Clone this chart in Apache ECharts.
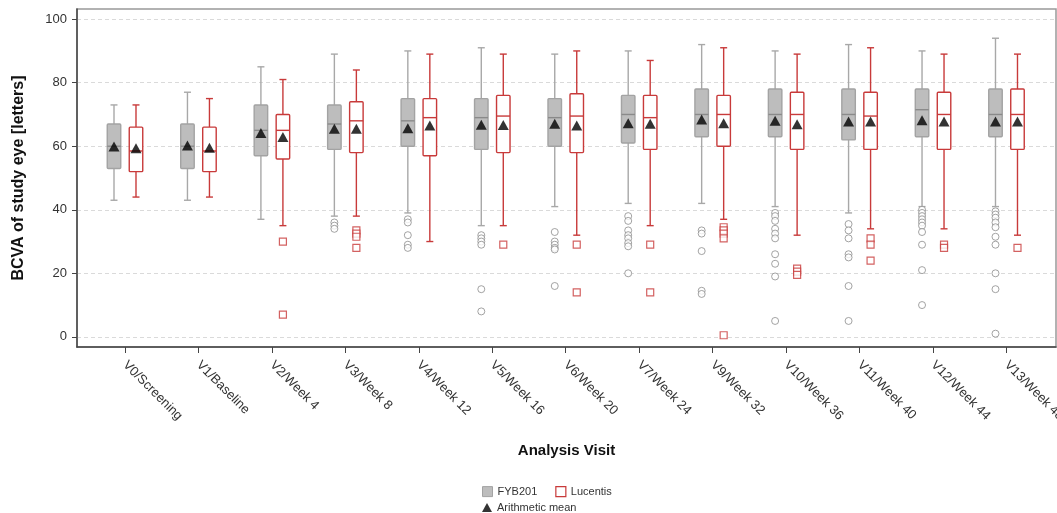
<!DOCTYPE html>
<html><head><meta charset="utf-8">
<script src="https://cdn.jsdelivr.net/npm/echarts@6/dist/echarts.min.js"></script>
<style>html,body{margin:0;padding:0;background:#fff}#c{width:1057px;height:513px}</style>
</head><body><div id="c"></div>
<script>
const categories = ['V0/Screening','V1/Baseline','V2/Week 4','V3/Week 8','V4/Week 12','V5/Week 16','V6/Week 20','V7/Week 24','V9/Week 32','V10/Week 36','V11/Week 40','V12/Week 44','V13/Week 48'];
const yTicks = [0, 20, 40, 60, 80, 100];
// [low whisker, Q1, median, Q3, high whisker]
const fybBoxes = [
  [43,53,60,67,73],[43,53,60,67,77],[37,57,65,73,85],[38,59,67,73,89],[39,60,68,75,90],
  [35,59,69,75,91],[41,60,69,75,89],[42,61,70,76,90],[42,63,70,78,92],[41,63,70,78,90],
  [39,62,70,78,92],[41,63,71.5,78,90],[41,63,70,78,94]
];
const lucBoxes = [
  [44,52,58.5,66,73],[44,52,58.5,66,75],[35,56,65,70,81],[38,58,68,74,84],[30,57,69,75,89],
  [35,58,69.5,76,89],[32,58,69.5,76.5,90],[35,59,69,76,87],[37,60,70,76,91],[32,59,70,77,89],
  [34,59,69.5,77,91],[34,59,70,77,89],[32,59,70,78,89]
];
const fybMeans = [59.9,60.2,64.2,65.5,65.7,66.8,67.1,67.2,68.4,68.0,67.8,68.2,67.8];
const lucMeans = [59.4,59.5,62.9,65.5,66.5,66.7,66.5,67.1,67.2,66.9,67.8,67.8,67.8];
const fybOutliers = [
  [],[],[],[36,35,34],[37,36,32,29,28],[32,31,30,29,15,8],[33,30,29,28,27.5,16],
  [38,36.5,33.5,32,31,29.5,28.5,20],[33.5,32.5,27,14.5,13.5],
  [39,38,36.5,34,32.5,31,26,23,19,5],[35.5,33.5,31,26,25,16,5],
  [40,39,38,37,36,35,33,29,21,10],[39.5,38.5,37.5,36,34.5,31.5,29,20,15,1]
];
const lucOutliers = [
  [],[],[30,7],[33.5,32.5,31.5,28],[],[29],[29,14],[29,14],[34.5,33.5,32.5,31,0.5],
  [21.5,20.5,19.5],[31,29,24],[29,28],[28]
];

const FONT = '"Liberation Sans", Arial, sans-serif';
const OFF = 11;
const GRAY = {fill:'#bdbdbd', border:'#a3a3a3', whisker:'#a8a8a8', median:'#8a8a8a'};
const RED = {fill:'#ffffff', border:'#c83a3a', whisker:'#c83a3a', median:'#c83a3a'};

function boxRenderer(offset, st) {
  return function (params, api) {
    const x = api.value(0);
    const lo = api.coord([x, api.value(1)]);
    const q1 = api.coord([x, api.value(2)]);
    const md = api.coord([x, api.value(3)]);
    const q3 = api.coord([x, api.value(4)]);
    const hi = api.coord([x, api.value(5)]);
    const cx = lo[0] + offset;
    const hw = 6.75, cw = 3.5;
    const ws = {stroke: st.whisker, lineWidth: 1.4};
    return {type: 'group', children: [
      {type:'line', shape:{x1:cx,y1:hi[1],x2:cx,y2:q3[1]}, style:ws},
      {type:'line', shape:{x1:cx,y1:q1[1],x2:cx,y2:lo[1]}, style:ws},
      {type:'line', shape:{x1:cx-cw,y1:hi[1],x2:cx+cw,y2:hi[1]}, style:ws},
      {type:'line', shape:{x1:cx-cw,y1:lo[1],x2:cx+cw,y2:lo[1]}, style:ws},
      {type:'rect', shape:{x:cx-hw,y:q3[1],width:2*hw,height:q1[1]-q3[1],r:1}, style:{fill:st.fill, stroke:st.border, lineWidth:1.4}},
      {type:'line', shape:{x1:cx-hw,y1:md[1],x2:cx+hw,y2:md[1]}, style:{stroke:st.median, lineWidth:1.4}}
    ]};
  };
}
function flatOut(arr) {
  const r = [];
  arr.forEach((vals, i) => vals.forEach(v => r.push([i, v])));
  return r;
}

const chart = echarts.init(document.getElementById('c'));
chart.setOption({
  animation: false,
  textStyle: {fontFamily: FONT},
  grid: {left: 77, top: 9, width: 979, height: 338, show: true, borderColor: '#999', borderWidth: 1.5,
    backgroundColor: 'transparent', containLabel: false, outerBoundsMode: 'none'},
  legend: [
    {data: [
      {name:'FYB201', icon:'rect', itemStyle:{color:GRAY.fill, borderColor:GRAY.border, borderWidth:1}},
      {name:'Lucentis', icon:'rect', itemStyle:{color:'#fff', borderColor:RED.border, borderWidth:1.2}}
    ], left: 477, top: 481, itemWidth: 10, itemHeight: 10, itemGap: 18, selectedMode: false,
      textStyle:{fontSize: 11, color:'#333', fontFamily: FONT}},
    {data: [{name:'Arithmetic mean', icon:'triangle', itemStyle:{color:'#000'}}],
      left: 477, top: 497, itemWidth: 10, itemHeight: 9, selectedMode: false,
      textStyle:{fontSize: 11, color:'#333', fontFamily: FONT}}
  ],
  xAxis: {
    type: 'value', min: -0.6534, max: 12.674,
    name: 'Analysis Visit', nameLocation: 'middle', nameGap: 96,
    nameTextStyle: {fontSize: 15, fontWeight: 'bold', color: '#111', fontFamily: FONT},
    axisLine: {show: true, onZero: false, lineStyle: {color: '#444', width: 1.5}},
    axisTick: {show: true, length: 6, lineStyle: {color: '#444'}, customValues: categories.map((c, i) => i)},
    axisLabel: {rotate: -45, margin: 16, fontSize: 13, color: '#333', fontFamily: FONT,
      customValues: categories.map((c, i) => i), formatter: v => categories[Math.round(v)] || ''},
    splitLine: {show: false}
  },
  yAxis: {
    type: 'value', min: -3.2, max: 103.2,
    name: 'BCVA of study eye [letters]', nameLocation: 'middle', nameGap: 50,
    nameTextStyle: {fontSize: 16, fontWeight: 'bold', color: '#111', fontFamily: FONT},
    axisLine: {show: true, onZero: false, lineStyle: {color: '#444', width: 1.5}},
    axisTick: {show: true, length: 5, lineStyle: {color: '#444'}, customValues: yTicks},
    axisLabel: {margin: 10, fontSize: 13, color: '#333', fontFamily: FONT, customValues: yTicks},
    splitLine: {show: true, lineStyle: {color: '#dadada', type: [4, 3], width: 1}}
  },
  series: [
    {name:'FYB201', type:'custom', renderItem: boxRenderer(-OFF, GRAY), data: fybBoxes.map((b, i) => [i].concat(b)),
      encode: {x: 0, y: [1,2,3,4,5]}, itemStyle:{color: GRAY.fill}, z: 2},
    {name:'Lucentis', type:'custom', renderItem: boxRenderer(OFF, RED), data: lucBoxes.map((b, i) => [i].concat(b)),
      encode: {x: 0, y: [1,2,3,4,5]}, itemStyle:{color: RED.border}, z: 2},
    {name:'FYB201', type:'scatter', data: flatOut(fybOutliers), symbol:'circle', symbolSize: 7, symbolOffset: [-OFF, 0],
      itemStyle:{color:'#fff', borderColor:'#8c8c8c', borderWidth: 1}, z: 3},
    {name:'Lucentis', type:'scatter', data: flatOut(lucOutliers), symbol:'rect', symbolSize: 7, symbolOffset: [OFF, 0],
      itemStyle:{color:'#fff', borderColor:RED.border, borderWidth: 1.2}, z: 3},
    {name:'Arithmetic mean', type:'scatter', data: fybMeans.map((v, i) => [i, v]), symbol:'triangle', symbolSize: [11, 10],
      symbolOffset: [-OFF, 0], itemStyle:{color:'#000'}, z: 4},
    {name:'Arithmetic mean', type:'scatter', data: lucMeans.map((v, i) => [i, v]), symbol:'triangle', symbolSize: [11, 10],
      symbolOffset: [OFF, 0], itemStyle:{color:'#000'}, z: 4}
  ]
});
</script>
</body></html>
